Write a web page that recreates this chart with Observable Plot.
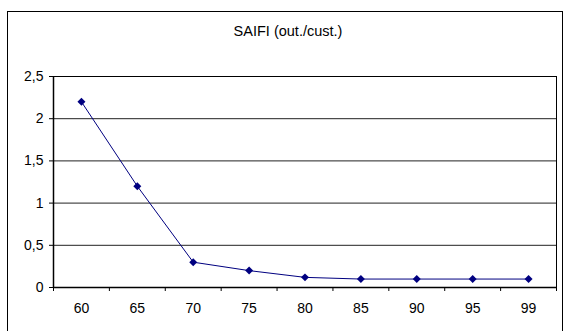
<!DOCTYPE html>
<html><head><meta charset="utf-8">
<script src="https://cdn.jsdelivr.net/npm/d3@7"></script>
<script src="https://cdn.jsdelivr.net/npm/@observablehq/plot@0.6"></script>
<style>
body{margin:0;background:#fff;}
#wrap{position:relative;width:564px;height:331px;overflow:hidden;font-family:"Liberation Sans",Arial,sans-serif;}
#box{position:absolute;left:7px;top:11px;width:556px;height:322px;border:1px solid #000;box-sizing:border-box;}
#title{position:absolute;left:0;top:23px;width:576px;text-align:center;font-size:14.5px;color:#000;}
#wrap svg{position:absolute;left:0;top:0;}
</style></head>
<body>
<div id="wrap"><div id="box"></div><div id="title">SAIFI (out./cust.)</div></div>
<script>
const categories = ["60", "65", "70", "75", "80", "85", "90", "95", "99"];
const values = [2.2, 1.2, 0.3, 0.2, 0.12, 0.1, 0.1, 0.1, 0.1];
const yTicks = [0, 0.5, 1, 1.5, 2, 2.5];
const gridTicks = [0.5, 1, 1.5, 2];

const data = categories.map((c, i) => ({i: i + 0.5, cat: c, v: values[i]}));
const n = categories.length;

const chart = Plot.plot({
  width: 564,
  height: 331,
  marginLeft: 53,
  marginRight: 8,
  marginTop: 76,
  marginBottom: 44,
  style: {background: "transparent", fontFamily: "Liberation Sans, Arial, sans-serif", fontSize: "14px", color: "#000"},
  x: {type: "linear", domain: [0, n]},
  y: {domain: [0, 2.5]},
  marks: [
    Plot.ruleY(gridTicks, {stroke: "#222", strokeWidth: 1}),
    Plot.ruleY([2.5], {stroke: "#000", strokeWidth: 1}),
    Plot.ruleX([n], {stroke: "#000", strokeWidth: 1}),
    Plot.ruleY([0], {stroke: "#000", strokeWidth: 1.5}),
    Plot.ruleX([0], {stroke: "#000", strokeWidth: 1.5}),
    Plot.axisY({ticks: yTicks, tickSize: 4, tickPadding: 6, fontSize: 14, stroke: "#000", strokeOpacity: 1, tickFormat: d => String(d).replace(".", ","), label: null}),
    Plot.axisX({ticks: d3.range(n + 1), tickSize: 4, stroke: "#000", strokeOpacity: 1, tickFormat: () => "", label: null}),
    Plot.axisX({ticks: data.map(d => d.i), tickSize: 0, tickPadding: 16, fontSize: 14, tickFormat: d => categories[Math.floor(d)], label: null}),
    Plot.line(data, {x: "i", y: "v", stroke: "#000080", strokeWidth: 1}),
    Plot.dot(data, {x: "i", y: "v", symbol: "diamond2", r: 3.6, fill: "#000080", stroke: "none"})
  ]
});
document.getElementById("wrap").appendChild(chart);
</script>
</body></html>
